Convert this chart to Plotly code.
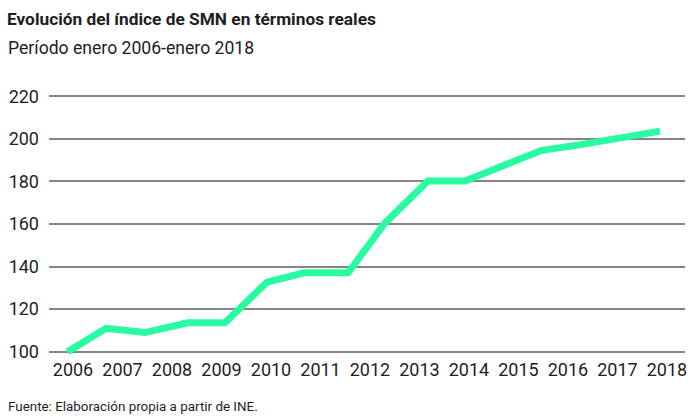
import plotly.graph_objects as go

# Data
x_time = [2005.89, 2006.67, 2007.45, 2008.32, 2009.07, 2009.92, 2010.67, 2011.56,
          2012.30, 2013.17, 2013.92, 2014.67, 2015.47, 2016.26, 2017.05, 2017.86]
smn_index = [100, 111, 109, 113.6, 113.6, 132.7, 137.1, 137.1,
             160.4, 180.2, 180.2, 187.2, 194.6, 197.3, 200.2, 203.6]
year_ticks = [2006, 2007, 2008, 2009, 2010, 2011, 2012, 2013, 2014, 2015, 2016, 2017, 2018]
year_labels = [str(y) for y in year_ticks]
y_ticks = [100, 120, 140, 160, 180, 200, 220]

FONT = "Roboto, Lato, sans-serif"
TXT = "#1e1e1e"

fig = go.Figure()
fig.add_trace(go.Scatter(
    x=x_time, y=smn_index, mode="lines",
    line=dict(color="#28fba0", width=7),
    hoverinfo="x+y", showlegend=False,
))

fig.update_layout(
    width=700, height=419,
    margin=dict(l=49, r=15, t=92, b=63, autoexpand=False),
    paper_bgcolor="white", plot_bgcolor="white",
    font=dict(family=FONT, color=TXT),
    title=dict(
        text="<b>Evolución del índice de SMN en términos reales</b>",
        x=7/700, xanchor="left", xref="container",
        y=1 - 18.5/419, yanchor="middle", yref="container",
        font=dict(size=17.3, family=FONT, color=TXT),
    ),
    annotations=[
        dict(text="Período enero 2006-enero 2018", xref="paper", yref="paper",
             x=(6-49)/636, y=(356-48)/264, xanchor="left", yanchor="middle",
             showarrow=False, font=dict(size=17.6, family=FONT, color=TXT)),
        dict(text="Fuente: Elaboración propia a partir de INE.", xref="paper", yref="paper",
             x=(6-49)/636, y=(356-406)/264, xanchor="left", yanchor="middle",
             showarrow=False, font=dict(size=13.4, family=FONT, color=TXT)),
    ],
    xaxis=dict(
        range=[2005.515, 2018.364], tickvals=year_ticks, ticktext=year_labels,
        tickangle=0, automargin=False,
        showgrid=False, zeroline=False, showline=False, ticks="",
        tickfont=dict(size=18, family=FONT, color=TXT),
        ticklabelstandoff=1,
    ),
    yaxis=dict(
        range=[98, 222], tickvals=y_ticks, automargin=False,
        showgrid=True, gridcolor="#858585", gridwidth=1.5,
        zeroline=False, showline=False, ticks="",
        tickfont=dict(size=18, family=FONT, color=TXT),
        ticklabelstandoff=9,
    ),
)

fig.write_html("out.html", config={"displayModeBar": False},
               post_script="document.body.style.margin='0';")
